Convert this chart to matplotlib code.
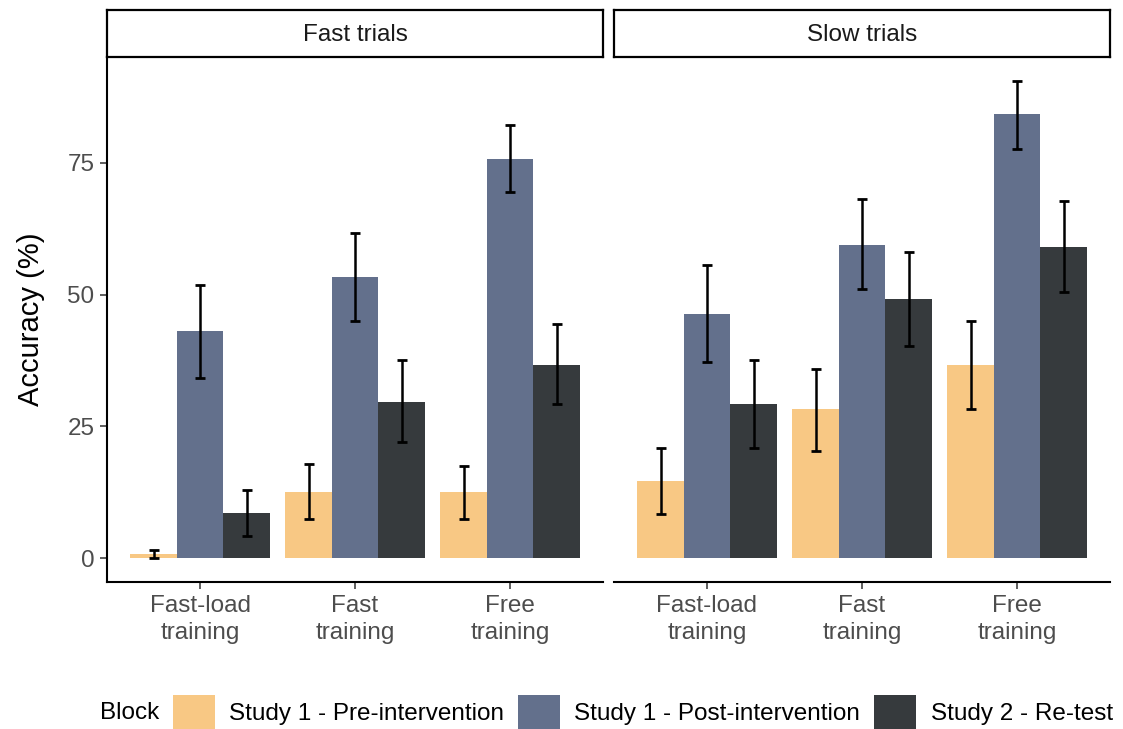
import matplotlib.pyplot as plt
from matplotlib.patches import Patch
import numpy as np

plt.rcParams['font.family'] = ['Liberation Sans', 'DejaVu Sans']

# data: accuracy means and CI bounds per facet, block and training type
trainings = ['Fast-load\ntraining', 'Fast\ntraining', 'Free\ntraining']
blocks = ['Study 1 - Pre-intervention', 'Study 1 - Post-intervention', 'Study 2 - Re-test']
colors = ['#F8C884', '#63708C', '#363A3D']

fast_mean = [[0.7, 12.6, 12.5], [43.0, 53.3, 75.8], [8.5, 29.6, 36.6]]
fast_lo = [[0.0, 7.4, 7.5], [34.1, 44.9, 69.5], [4.2, 22.0, 29.2]]
fast_hi = [[1.6, 17.9, 17.5], [51.9, 61.7, 82.2], [13.0, 37.5, 44.5]]

slow_mean = [[14.6, 28.2, 36.6], [46.4, 59.5, 84.2], [29.2, 49.1, 59.0]]
slow_lo = [[8.3, 20.4, 28.2], [37.3, 51.1, 77.7], [20.9, 40.3, 50.5]]
slow_hi = [[20.9, 35.9, 45.0], [55.7, 68.1, 90.6], [37.6, 58.0, 67.7]]

panels = [('Fast trials', fast_mean, fast_lo, fast_hi),
          ('Slow trials', slow_mean, slow_lo, slow_hi)]

W, H = 1123, 729
fig = plt.figure(figsize=(W / 100, H / 100), dpi=100)

lefts = [107, 614]
pw = 496
ax_bot, ax_top, strip_top = 582, 57, 10
x = np.arange(1, 4)
bw = 0.3
fs = 17.5

for k, (title, mean, lo, hi) in enumerate(panels):
    ax = fig.add_axes([lefts[k] / W, 1 - ax_bot / H, pw / W, (ax_bot - ax_top) / H])
    for j in range(3):
        m = np.array(mean[j])
        pos = x + (j - 1) * bw
        ax.bar(pos, m, width=bw, color=colors[j], edgecolor='none')
        err = np.array([m - np.array(lo[j]), np.array(hi[j]) - m])
        ax.errorbar(pos, m, yerr=err, fmt='none', ecolor='black',
                    elinewidth=1.8, capsize=3.6, capthick=2.0)
    ax.set_xlim(0.4, 3.6)
    ax.set_ylim(-4.55, 95.1)
    ax.set_xticks(x)
    ax.set_xticklabels(trainings, fontsize=fs, color='#4D4D4D', linespacing=1.3)
    ax.set_yticks([0, 25, 50, 75])
    ax.tick_params(axis='both', length=5, width=1.1, color='#333333', pad=4)
    for s in ['top', 'right']:
        ax.spines[s].set_visible(False)
    ax.spines['bottom'].set_linewidth(1.5)
    if k == 0:
        ax.spines['left'].set_linewidth(1.5)
        ax.set_yticklabels(['0', '25', '50', '75'], fontsize=fs, color='#4D4D4D')
        ax.set_ylabel('Accuracy (%)', fontsize=21, labelpad=16)
    else:
        ax.spines['left'].set_visible(False)
        ax.tick_params(axis='y', left=False, labelleft=False)

    # facet strip
    sax = fig.add_axes([lefts[k] / W, 1 - ax_top / H, pw / W, (ax_top - strip_top) / H])
    sax.set_xticks([])
    sax.set_yticks([])
    for s in sax.spines.values():
        s.set_linewidth(1.6)
        s.set_color('black')
    sax.text(0.5, 0.47, title, ha='center', va='center', fontsize=fs,
             color='#1A1A1A', transform=sax.transAxes)

# legend along the bottom
fig.text(100 / W, 1 - 713 / H, 'Block', fontsize=fs, va='center', ha='left')
handles = [Patch(facecolor=c, edgecolor='none') for c in colors]
fig.legend(handles, blocks, loc='center left', bbox_to_anchor=(173 / W, 1 - 712 / H),
           ncol=3, frameon=False, fontsize=fs, handlelength=1.73, handleheight=1.73,
           handletextpad=0.58, columnspacing=0.58, borderpad=0, borderaxespad=0)

fig.savefig('out.png', dpi=100)
